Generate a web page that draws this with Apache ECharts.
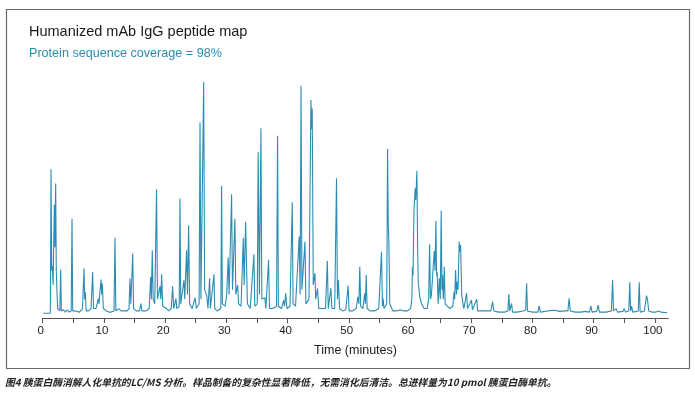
<!DOCTYPE html>
<html>
<head>
<meta charset="utf-8">
<script src="https://cdn.jsdelivr.net/npm/echarts@6/dist/echarts.min.js"></script>
<style>
html,body{margin:0;padding:0;background:#fff;}
#chart{width:695px;height:393px;}
</style>
</head>
<body>
<div id="chart"></div>
<script>
const titleText = 'Humanized mAb IgG peptide map';
const subtitleText = 'Protein sequence coverage = 98%';
const xAxisName = 'Time (minutes)';
const captionText = '图4 胰蛋白酶消解人化单抗的LC/MS 分析。样品制备的复杂性显著降低，无需消化后清洁。总进样量为10 pmol 胰蛋白酶单抗。';
const xLabelValues = [0, 10, 20, 30, 40, 50, 60, 70, 80, 90, 100];
const xTickValues = [0, 5, 10, 15, 20, 25, 30, 35, 40, 45, 50, 55, 60, 65, 70, 75, 80, 85, 90, 95, 100];

// [time (min), relative intensity]
const trace = [
  [0.1,2],[1.2,2],[1.25,3],[1.36,63],[1.47,20],[1.57,22],[1.7,14],[1.9,48],[2.0,30],[2.12,57],[2.22,20],[2.32,12],[2.45,4],
  [2.8,3],[2.94,20.5],[3.05,3],[3.4,3.5],[3.7,2.5],[4.0,3.5],[4.3,2.5],[4.65,3],[4.79,42],[4.9,3],[5.3,3],[5.6,2.5],[6.0,2.5],
  [6.5,4],[6.75,21],[6.85,8],[6.96,11],[7.1,3],[7.5,3],[7.9,4],[8.16,19.5],[8.3,4],[8.7,4],[9.08,8.2],[9.2,6],[9.52,16.3],
  [9.64,10],[9.74,14.6],[9.9,4],[10.4,3],[10.8,2.5],[11.2,2.5],[11.65,3],[11.81,34],[11.95,3],[12.4,4],[12.8,3],[13.3,3],
  [13.8,3],[14.1,4],[14.26,16.7],[14.4,6],[14.7,27.3],[14.85,4],[15.3,3],[15.8,3],[16.05,6.1],[16.2,3],[16.9,3],[17.4,4],
  [17.63,17.4],[17.75,8],[17.9,28.7],[18.05,8],[18.3,6],[18.6,54.5],[18.75,8],[19.16,13.4],[19.3,8],[19.43,18.5],[19.6,5],
  [20.2,4],[20.6,3],[21.0,4],[21.23,13.4],[21.4,4],[21.77,8.2],[21.9,4],[22.3,5],[22.42,50.6],[22.55,6],[23.07,16],[23.2,8],
  [23.5,28.7],[23.65,10],[23.84,39.3],[24.0,6],[24.4,4],[24.9,8.6],[25.1,4],[25.55,6],[25.7,82.8],[25.85,8],[26.15,8],
  [26.3,100],[26.45,12],[26.8,9.5],[27.0,4],[27.27,16.8],[27.4,4],[27.98,18.5],[28.1,4],[28.5,3],[29.1,4],[29.23,56],
  [29.35,6],[29.8,5],[30.05,9.7],[30.3,25.6],[30.45,10],[30.86,52.4],[31.0,12],[31.4,42],[31.55,10],[31.85,14],[32.0,6],
  [32.4,5],[32.77,34],[32.9,14],[33.15,40.8],[33.3,22],[33.45,6],[33.9,4],[34.5,27],[34.65,5],[35.05,6],[35.2,70.2],
  [35.4,10],[35.65,80.4],[35.8,8],[36.3,8.6],[36.45,4],[36.9,24.6],[37.05,4],[37.6,4],[38.2,5],[38.37,77.2],[38.5,5],
  [39.0,4],[39.36,7.5],[39.5,5],[39.7,10.5],[39.9,4],[40.4,5],[40.77,49],[40.9,6],[41.3,5],[41.9,34.5],[42.05,10],
  [42.2,98.4],[42.35,12],[42.84,32.3],[43.0,6],[43.5,8],[43.82,92.4],[43.92,80],[44.03,88.8],[44.2,14],[44.47,19],
  [44.6,8],[44.9,12.6],[45.1,4],[45.6,4],[46.2,4],[46.5,24.2],[46.65,4],[47.08,12.6],[47.25,4],[47.7,4],[48.0,59.2],
  [48.15,8],[48.3,16],[48.5,4],[49.0,3],[49.5,3.5],[49.9,13.7],[50.05,3],[50.6,3],[51.2,4],[51.5,9],[51.65,6],[51.8,21.7],
  [51.95,5],[52.3,4],[52.6,10.5],[52.72,6],[52.85,18.2],[53.0,4],[53.5,3],[54.2,3],[54.9,4],[55.35,28.1],[55.5,5],
  [55.6,8.3],[55.75,4],[56.2,6],[56.34,71.6],[56.45,40],[56.55,32.3],[56.7,6],[57.2,3],[57.8,3],[58.4,3.5],[59.0,3],
  [59.6,3],[60.1,4],[60.3,8],[60.4,21.7],[60.5,18],[60.65,45],[60.85,55],[60.95,50],[61.13,62.4],[61.25,30],[61.35,15],
  [61.6,9],[61.9,6],[62.3,4],[62.8,4],[63.05,8],[63.2,31.2],[63.35,8],[63.5,9.7],[63.75,10],[63.96,28.4],[64.1,20],
  [64.23,41.1],[64.35,18],[64.45,19.4],[64.6,6],[64.8,16.8],[64.95,8],[65.1,45.5],[65.22,12],[65.3,18.2],[65.45,8],
  [65.6,21.7],[65.75,6],[66.0,5.5],[66.5,4],[67.0,5],[67.2,11.1],[67.3,8],[67.45,20.3],[67.6,10],[67.7,15.4],[67.85,12],
  [68.04,32.3],[68.15,28],[68.27,30.9],[68.45,10],[68.6,6.9],[68.8,4],[69.25,10.5],[69.4,4],[70.06,7.6],[70.2,3.5],
  [70.5,3],[70.9,8],[71.05,3],[71.8,3],[72.5,3],[73.2,3],[73.5,6.9],[73.7,3],[74.5,2.5],[75.5,2.5],[76.0,3],[76.15,10.2],
  [76.3,3],[76.6,6.2],[76.75,2.5],[77.5,2.5],[78.5,3],[78.9,3.5],[79.05,14.7],[79.2,3],[80.0,2.5],[80.9,2.5],[81.1,5.1],
  [81.3,2.5],[82.5,3],[83.5,3.3],[84.5,2.8],[85.3,3],[85.8,3],[86.0,8.3],[86.2,3],[87.0,2.5],[88.0,2.5],[88.6,2.8],
  [89.3,2.5],[89.55,5.1],[89.75,2.5],[90.5,2.8],[90.75,5.5],[90.95,2.5],[92.0,2.5],[92.9,3],[93.1,16.1],[93.25,3],
  [93.7,4],[93.9,2.5],[94.8,2.8],[95.0,4],[95.2,2.5],[95.75,3],[95.9,15.1],[96.05,3],[96.2,5],[96.4,2.5],[97.3,3],
  [97.45,15.1],[97.6,2.5],[98.3,3],[98.64,9.5],[98.8,8],[99.0,3],[99.5,2.5],[100.2,2.5],[100.6,3],[101.0,2.5],[102.0,2.2]
];

const chart = echarts.init(document.getElementById('chart'), null, {renderer: 'canvas'});
const font = 'Liberation Sans, Arial, sans-serif';
chart.setOption({
  animation: false,
  backgroundColor: '#ffffff',
  title: [
    {text: titleText, left: 24, top: 19, textStyle: {fontFamily: font, fontSize: 14.5, fontWeight: 'normal', color: '#1a1a1a'}},
    {text: subtitleText, left: 24, top: 42, textStyle: {fontFamily: font, fontSize: 12.6, fontWeight: 'normal', color: '#2a8cb0'}}
  ],
  grid: {left: 42.7, right: 26.7, top: 82, bottom: 75, containLabel: false},
  xAxis: {
    type: 'value', min: 0, max: 102.2,
    name: xAxisName, nameLocation: 'middle', nameGap: 26,
    nameTextStyle: {fontFamily: font, fontSize: 12.5, color: '#1a1a1a'},
    axisLine: {show: true, lineStyle: {color: '#555', width: 1}},
    axisTick: {show: true, length: 5, customValues: xTickValues, lineStyle: {color: '#555', width: 1}},
    axisLabel: {customValues: xLabelValues, fontFamily: font, fontSize: 11.5, color: '#1a1a1a', margin: 7, padding: [0, 4, 0, 0]},
    splitLine: {show: false}
  },
  yAxis: {
    type: 'value', min: 0, max: 100, show: false,
    splitLine: {show: false}
  },
  series: [{
    type: 'line', data: trace, showSymbol: false, symbol: 'none',
    lineStyle: {color: '#2b8db3', width: 1.1},
    z: 2
  }],
  graphic: [
    {type: 'rect', shape: {x: 6.5, y: 9.5, width: 683, height: 359}, style: {fill: null, stroke: '#6a6a6a', lineWidth: 1.2}, silent: true},
    {type: 'text', x: 5, y: 382, style: {text: captionText, fontFamily: 'Noto Sans CJK SC', fontSize: 9.8, fontStyle: 'italic', fontWeight: 'bold', fill: '#222', verticalAlign: 'middle'}}
  ]
});
</script>
</body>
</html>
